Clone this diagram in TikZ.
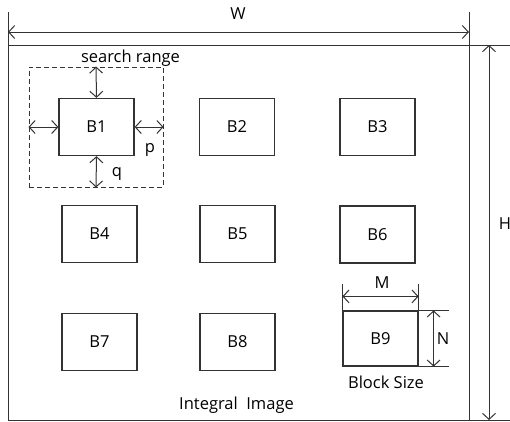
\documentclass[tikz,border=0pt]{standalone}
\usepackage{fontspec}
\setmainfont{Open Sans}
\usetikzlibrary{positioning, calc, arrows.meta}

\begin{document}
\begin{tikzpicture}[
  x=1pt, y=-1pt,
  %% blocos da imagem
  blk/.style={
    rectangle, draw=black!80, line width=1.2pt,
    minimum width=75pt, minimum height=57pt,
    inner sep=0pt, font=\fontsize{16.5}{19}\selectfont
  },
  %% linhas de cota
  dim/.style={{Straight Barb[length=6pt,width=13pt]}-{Straight Barb[length=6pt,width=13pt]}, line width=1pt, black!80},
  ext/.style={line width=1pt, black!80},
  %% textos
  lbl/.style={font=\fontsize{16.5}{19}\selectfont, inner sep=0pt}
]
\useasboundingbox (0,0) rectangle (510,421);

%% ================================================================
%% IMAGEM INTEGRAL (moldura)
%% ================================================================
\draw[ext] (8,45) rectangle (469,420);
\coordinate (wl) at (8,32);
\coordinate (wr) at (469,32);
\draw[ext] (8,12) -- (8,45);
\draw[ext] (469,12) -- (469,45);
\draw[ext] (469,45) -- (510,45);
\draw[ext] (469,420) -- (510,420);
\draw[dim] (wl) -- (wr);
\node[lbl, anchor=base] (wlab) at (238,19) {W};

\coordinate (ht) at (489,45);
\coordinate (hb) at (489,420);
\draw[dim] (ht) -- (hb);
\node[lbl] (hlab) at (505,224) {H};

%% ================================================================
%% BLOCOS
%% ================================================================
\node[blk] (b1) at (96.5,127)   {B1};
\node[blk] (b2) at (237,127)    {B2};
\node[blk] (b3) at (377.5,127)  {B3};
\node[blk] (b4) at (99.5,234)   {B4};
\node[blk] (b5) at (237.5,234)  {B5};
\node[blk] (b6) at (377.5,234.5){B6};
\node[blk] (b7) at (99.5,342)   {B7};
\node[blk] (b8) at (237.5,342)  {B8};
\node[blk, minimum height=55pt] (b9) at (380.5,338.5) {B9};

%% ================================================================
%% JANELA DE BUSCA
%% ================================================================
\node[draw=black!80, dash pattern=on 5pt off 3pt, line width=1pt,
      minimum width=134pt, minimum height=120pt, inner sep=0pt] (srch) at (96,127) {};
\node[lbl, anchor=base] (slab) at (130.5,62) {search range};

\draw[dim] (srch.north) -- (b1.north);
\draw[dim] (srch.west)  -- (b1.west);
\draw[dim] (b1.east)    -- (srch.east);
\draw[dim] (b1.south)   -- (srch.south);
\node[lbl, anchor=base] (plab) at (150,152) {p};
\node[lbl, anchor=base] (qlab) at (117,176) {q};

%% ================================================================
%% TAMANHO DO BLOCO
%% ================================================================
\draw[ext] (b9.north west) -- ++(0,-26);
\draw[ext] (b9.north east) -- ++(0,-26);
\draw[ext] (b9.north east) -- ++(30,0);
\draw[ext] (b9.south east) -- ++(30,0);
\draw[dim] ($(b9.north west)+(0,-14)$) -- ($(b9.north east)+(0,-14)$);
\draw[dim] ($(b9.north east)+(15,0)$) -- ($(b9.south east)+(15,0)$);
\node[lbl] (mlab) at (382,283) {M};
\node[lbl] (nlab) at (443,339) {N};
\node[lbl] (bslab) at (386,382) {Block Size};

\node[lbl, anchor=base] (iilab) at (236.5,409) {Integral\ \ Image};

\end{tikzpicture}
\end{document}
